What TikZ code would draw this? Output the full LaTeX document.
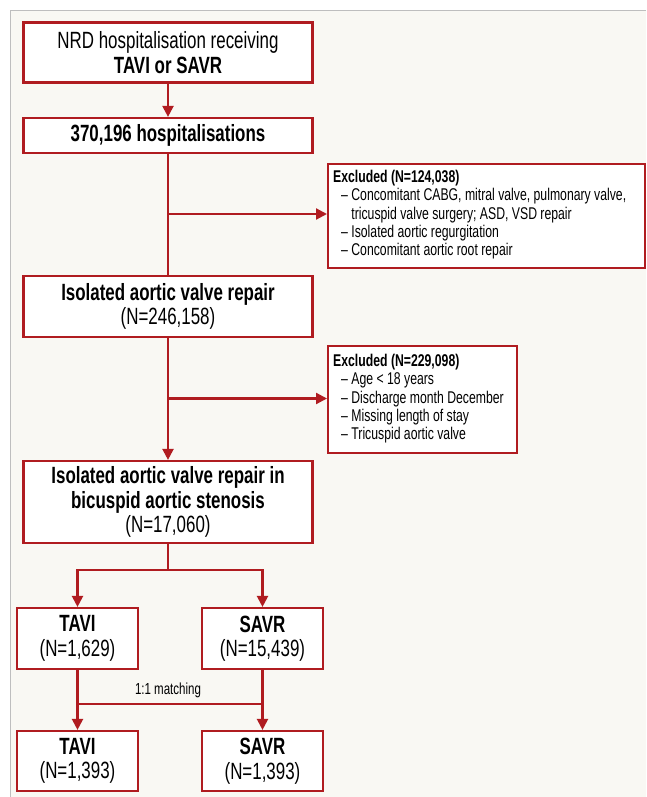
\documentclass[tikz,border=0pt]{standalone}
\usepackage{fontspec}
\setmainfont{Liberation Sans}[FakeStretch=0.72]
\usetikzlibrary{arrows.meta}
\definecolor{fred}{RGB}{176,28,32}
\definecolor{bgc}{RGB}{249,248,243}
\definecolor{framec}{RGB}{190,190,190}
\tikzset{
  mainbox/.style={draw=fred, line width=2.2pt, fill=white, minimum width=289pt, inner sep=0pt, align=center, font=\fontsize{23.5}{24.5}\selectfont},
  smallbox/.style={draw=fred, line width=2.2pt, fill=white, minimum width=121pt, inner sep=0pt, align=center, font=\fontsize{23.5}{24.5}\selectfont},
  exbox/.style={draw=fred, line width=2.2pt, fill=white, inner sep=0pt, anchor=north west},
  extext/.style={anchor=north west, align=left, inner sep=0pt, font=\fontsize{17}{18.3}\selectfont},
  conn/.style={draw=fred, line width=2.2pt},
  arr/.style={conn, -{Triangle[length=11pt,width=11pt]}},
}
\begin{document}
\begin{tikzpicture}[x=1pt,y=-1pt]
\useasboundingbox (0,0) rectangle (646,797);
\fill[white] (0,0) rectangle (646,797);
\fill[bgc] (10.5,10.5) rectangle (646,797);
\draw[framec, line width=1.5pt] (10.5,797) -- (10.5,10.5) -- (646,10.5);

\node[mainbox, minimum height=60pt] (b1) at (168,52.5) {NRD hospitalisation receiving\\\textbf{TAVI or SAVR}};
\node[mainbox, minimum height=35pt] (b2) at (168,135.5) {\textbf{370,196 hospitalisations}};
\node[exbox, minimum width=317pt, minimum height=104pt] (e1) at (327,163) {};
\node[extext] (e1t) at (333,170)
 {\textbf{Excluded (N=124,038)}\\
  \hspace*{8pt}– Concomitant CABG, mitral valve, pulmonary valve,\\
  \hspace*{8pt}\phantom{– }tricuspid valve surgery; ASD, VSD repair\\
  \hspace*{8pt}– Isolated aortic regurgitation\\
  \hspace*{8pt}– Concomitant aortic root repair};
\node[mainbox, minimum height=61pt] (b3) at (168,306.5) {\textbf{Isolated aortic valve repair}\\(N=246,158)};
\node[exbox, minimum width=189pt, minimum height=107pt] (e2) at (327,345) {};
\node[extext] (e2t) at (333,354)
 {\textbf{Excluded (N=229,098)}\\
  \hspace*{8pt}– Age < 18 years\\
  \hspace*{8pt}– Discharge month December\\
  \hspace*{8pt}– Missing length of stay\\
  \hspace*{8pt}– Tricuspid aortic valve};
\node[mainbox, minimum height=82pt] (b4) at (168,502) {\textbf{Isolated aortic valve repair in}\\\textbf{bicuspid aortic stenosis}\\(N=17,060)};
\node[smallbox, minimum height=61pt] (t1) at (77.5,638.5) {\textbf{TAVI}\\(N=1,629)};
\node[smallbox, minimum height=61pt] (s1) at (262.5,638.5) {\textbf{SAVR}\\(N=15,439)};
\node[smallbox, minimum height=60pt] (t2) at (77.5,761) {\textbf{TAVI}\\(N=1,393)};
\node[smallbox, minimum height=60pt] (s2) at (262.5,761) {\textbf{SAVR}\\(N=1,393)};

\coordinate (j1) at (168,214);
\coordinate (j2) at (168,398.5);
\coordinate (j3) at (168,570);
\coordinate (m1) at (77.5,704);
\coordinate (m2) at (262.5,704);

\draw[arr] (b1) -- (b2);
\draw[conn] (b2) -- (b3);
\draw[arr] (j1) -- (e1.west |- j1);
\draw[arr] (b3) -- (b4);
\draw[arr] (j2) -- (e2.west |- j2);
\draw[conn] (b4.south) -- (j3);
\draw[arr] (j3) -| (t1.north);
\draw[arr] (j3) -| (s1.north);
\draw[arr] (t1.south) -- (t2.north);
\draw[arr] (s1.south) -- (s2.north);
\draw[conn] (m1) -- (m2);
\node[font=\fontsize{16}{18}\selectfont, anchor=south, inner sep=0pt] (ml) at (168,698) {1:1 matching};
\end{tikzpicture}
\end{document}
